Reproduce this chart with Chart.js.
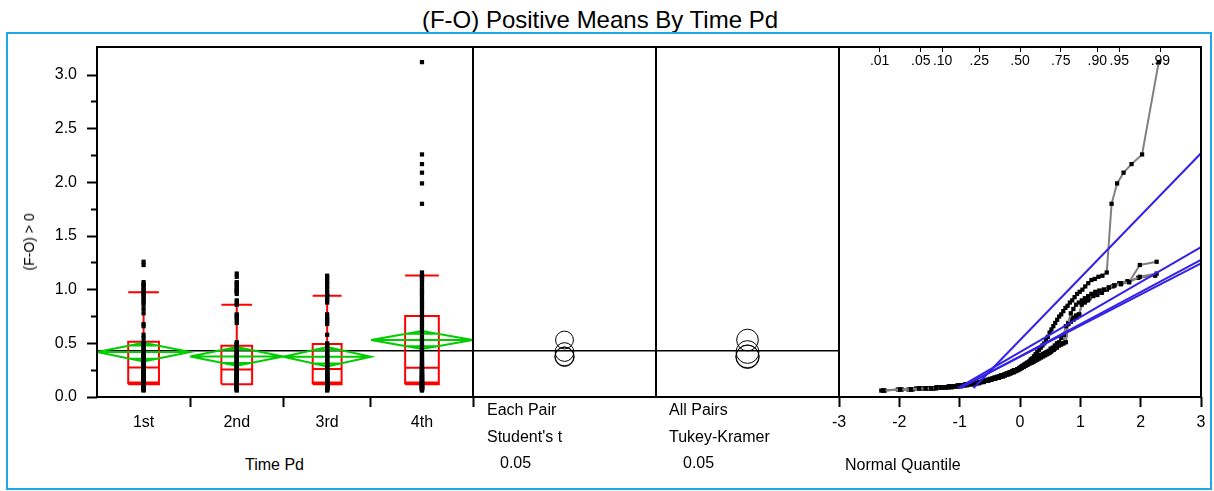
<!DOCTYPE html>
<html>
<head>
<meta charset="utf-8">
<script src="https://cdn.jsdelivr.net/npm/chart.js"></script>
<style>
  body { margin: 0; width: 1214px; height: 491px; position: relative; overflow: hidden; background: #fff;
         font-family: "Liberation Sans", Arial, sans-serif; color: #000; }
  canvas { position: absolute; }
  .txt { position: absolute; font-size: 16px; line-height: 16px; white-space: nowrap; }
  #title { position: absolute; left: 0; top: 8px; width: 1200px; text-align: center; font-size: 24px; line-height: 24px; }
  #frame { position: absolute; left: 6px; top: 32px; width: 1202px; height: 454px; border: 2px solid #1ea8e6; }
  #yTitle { left: 29px; top: 242px; font-size: 14px; line-height: 14px; transform: translate(-50%, -50%) rotate(-90deg); }
</style>
</head>
<body>
<div id="title">(F-O) Positive Means By Time Pd</div>
<div id="frame"></div>
<canvas id="meansChart" width="470" height="400" style="left:10px;top:40px"></canvas>
<canvas id="studentChart" width="203" height="364" style="left:463px;top:40px"></canvas>
<canvas id="tukeyChart" width="203" height="364" style="left:646px;top:40px"></canvas>
<canvas id="quantileChart" width="404" height="400" style="left:810px;top:40px"></canvas>
<div class="txt" id="yTitle">(F-O) &gt; 0</div>
<div class="txt" style="left:245px;top:457px">Time Pd</div>
<div class="txt" style="left:487px;top:402px">Each Pair</div>
<div class="txt" style="left:487px;top:429px">Student's t</div>
<div class="txt" style="left:500px;top:455px">0.05</div>
<div class="txt" style="left:669px;top:402px">All Pairs</div>
<div class="txt" style="left:669px;top:429px">Tukey-Kramer</div>
<div class="txt" style="left:683px;top:455px">0.05</div>
<div class="txt" style="left:845px;top:457px">Normal Quantile</div>
<script>
// ---- data ----
var groups = ["1st", "2nd", "3rd", "4th"];

var values1st = [0.06, 0.07, 0.07, 0.08, 0.08, 0.08, 0.08, 0.09, 0.09, 0.09, 0.09, 0.10, 0.10, 0.10,
  0.11, 0.11, 0.12, 0.12, 0.12, 0.13, 0.13,
  0.14, 0.14, 0.15, 0.15, 0.16, 0.16, 0.17, 0.18, 0.18, 0.19, 0.20, 0.20, 0.21, 0.22, 0.22, 0.23, 0.24, 0.25, 0.25, 0.26, 0.27,
  0.28, 0.29, 0.30, 0.31, 0.32, 0.33, 0.34, 0.35, 0.36, 0.37, 0.38, 0.39, 0.40, 0.41, 0.42, 0.43, 0.45, 0.46, 0.48, 0.50, 0.51,
  0.55, 0.58, 0.66, 0.68, 0.78, 0.82, 0.86, 0.88, 0.90, 0.92, 0.94, 0.96, 0.97, 0.99, 1.00, 1.02, 1.04, 1.05, 1.07, 1.23, 1.26];

var values2nd = [0.06, 0.07, 0.07, 0.08, 0.08, 0.08, 0.09, 0.09, 0.09, 0.09, 0.10, 0.10, 0.10, 0.11,
  0.11, 0.11, 0.12, 0.12, 0.12, 0.13, 0.13,
  0.14, 0.14, 0.15, 0.15, 0.16, 0.16, 0.17, 0.17, 0.18, 0.18, 0.19, 0.19, 0.20, 0.21, 0.21, 0.22, 0.23, 0.23, 0.24, 0.25, 0.26,
  0.27, 0.28, 0.29, 0.30, 0.31, 0.32, 0.32, 0.33, 0.34, 0.35, 0.36, 0.37, 0.38, 0.39, 0.40, 0.41, 0.42, 0.44, 0.45, 0.46, 0.48,
  0.49, 0.50, 0.51, 0.69, 0.72, 0.74, 0.76, 0.77, 0.86, 0.88, 0.90, 0.96, 0.98, 0.99, 1.00, 1.02, 1.04, 1.06, 1.07, 1.12, 1.15];

var values3rd = [0.06, 0.07, 0.07, 0.08, 0.08, 0.08, 0.09, 0.09, 0.09, 0.10, 0.10, 0.10, 0.11,
  0.11, 0.12, 0.12, 0.12, 0.13, 0.13, 0.13,
  0.14, 0.14, 0.15, 0.15, 0.16, 0.17, 0.17, 0.18, 0.18, 0.19, 0.20, 0.20, 0.21, 0.22, 0.22, 0.23, 0.24, 0.25, 0.25, 0.26,
  0.27, 0.28, 0.29, 0.30, 0.31, 0.32, 0.33, 0.34, 0.35, 0.36, 0.37, 0.38, 0.39, 0.40, 0.41, 0.43, 0.44, 0.46, 0.48, 0.49,
  0.50, 0.58, 0.68, 0.70, 0.72, 0.74, 0.77, 0.88, 0.90, 0.92, 0.94, 0.95, 0.97, 1.00, 1.03, 1.06, 1.08, 1.11, 1.13];

var values4th = [0.06, 0.07, 0.07, 0.08, 0.08, 0.08, 0.08, 0.09, 0.09, 0.09, 0.10, 0.10, 0.10, 0.11, 0.11,
  0.11, 0.12, 0.12, 0.12, 0.13, 0.13, 0.13, 0.14,
  0.14, 0.15, 0.15, 0.16, 0.16, 0.17, 0.17, 0.18, 0.18, 0.19, 0.19, 0.20, 0.20, 0.21, 0.21, 0.22, 0.23, 0.23, 0.24, 0.25, 0.25, 0.26, 0.27,
  0.28, 0.29, 0.30, 0.31, 0.32, 0.33, 0.35, 0.36, 0.38, 0.40, 0.42, 0.44, 0.46, 0.48, 0.50, 0.53, 0.56, 0.60, 0.63, 0.66, 0.69, 0.72, 0.75,
  0.77, 0.80, 0.83, 0.85, 0.88, 0.90, 0.93, 0.96, 0.98, 1.00, 1.03, 1.06, 1.09, 1.10, 1.12, 1.13, 1.16, 1.80, 1.99, 2.09, 2.17, 2.26, 3.12];

var valueLists = [values1st, values2nd, values3rd, values4th];

var grandMean = 0.432;
var groupMeans = [0.419, 0.378, 0.375, 0.531];
var meanCI = [0.087, 0.087, 0.09, 0.083];

var boxLow = [0.118, 0.118, 0.118, 0.118];
var boxLow2 = [0.134, 0.118, 0.134, 0.134];
var boxMedian = [0.276, 0.257, 0.26, 0.273];
var boxHigh = [0.515, 0.478, 0.494, 0.755];
var whiskerHigh = [0.976, 0.86, 0.944, 1.133];

var studentRadius = [0.087, 0.087, 0.09, 0.083];
var tukeyRadius = [0.106, 0.106, 0.109, 0.101];

var fitSD = [0.326, 0.30, 0.29, 0.58];
var fitStartZ = [-1.03, -0.98, -1.0, -0.77];

var yTicks = [0, 0.25, 0.5, 0.75, 1, 1.25, 1.5, 1.75, 2, 2.25, 2.5, 2.75, 3];
var quantileTicks = [-3, -2, -1, 0, 1, 2, 3];
var probLabels = [".01", ".05", ".10", ".25", ".50", ".75", ".90", ".95", ".99"];
var probValues = [0.01, 0.05, 0.10, 0.25, 0.50, 0.75, 0.90, 0.95, 0.99];

// ---- look ----
var Y_MAX = 3.261;
var BOX_FRAC = 0.33;
var RED = "#ff0000";
var GREEN = "#00cc00";
var BLUE = "#3322e6";
var GAP_Y = null;
var DOT = 3;

Chart.defaults.font.family = '"Liberation Sans", Arial, sans-serif';
Chart.defaults.color = "#000";

// black box round each plot area
var panelFrame = {
  id: "panelFrame",
  afterDraw: function (chart) {
    var a = chart.chartArea;
    var ctx = chart.ctx;
    ctx.save();
    ctx.strokeStyle = "#000";
    ctx.lineWidth = 2;
    ctx.strokeRect(a.left, a.top, a.right - a.left, a.bottom - a.top);
    ctx.restore();
  }
};

function invNorm(p) {
  var a = [-39.69683028665376, 220.9460984245205, -275.9285104469687, 138.3577518672690, -30.66479806614716, 2.506628277459239];
  var b = [-54.47609879822406, 161.5858368580409, -155.6989798598866, 66.80131188771972, -13.28068155288572];
  var c = [-0.007784894002430293, -0.3223964580411365, -2.400758277161838, -2.549732539343734, 4.374664141464968, 2.938163982698783];
  var d = [0.007784695709041462, 0.3224671290700398, 2.445134137142996, 3.754408661907416];
  var q, r;
  if (p < 0.02425) {
    q = Math.sqrt(-2 * Math.log(p));
    return (((((c[0] * q + c[1]) * q + c[2]) * q + c[3]) * q + c[4]) * q + c[5]) / ((((d[0] * q + d[1]) * q + d[2]) * q + d[3]) * q + 1);
  }
  if (p > 1 - 0.02425) {
    q = Math.sqrt(-2 * Math.log(1 - p));
    return -(((((c[0] * q + c[1]) * q + c[2]) * q + c[3]) * q + c[4]) * q + c[5]) / ((((d[0] * q + d[1]) * q + d[2]) * q + d[3]) * q + 1);
  }
  q = p - 0.5;
  r = q * q;
  return (((((a[0] * r + a[1]) * r + a[2]) * r + a[3]) * r + a[4]) * r + a[5]) * q / (((((b[0] * r + b[1]) * r + b[2]) * r + b[3]) * r + b[4]) * r + 1);
}

function isMajor(v) {
  return Math.abs(v * 2 - Math.round(v * 2)) < 1e-6;
}

function lineSet(points, color, width, order) {
  return { data: points, showLine: true, borderColor: color, borderWidth: width,
           pointRadius: 0, fill: false, tension: 0, spanGaps: false, order: order };
}

function pointSet(points, order) {
  return { data: points, showLine: false, pointStyle: "rect", pointRadius: DOT,
           pointBackgroundColor: "#000", pointBorderWidth: 0, order: order };
}

function baseOptions(padding, scales) {
  return {
    responsive: false,
    animation: false,
    devicePixelRatio: 1,
    events: [],
    layout: { autoPadding: false, padding: padding },
    plugins: { legend: { display: false }, tooltip: { enabled: false } },
    scales: scales
  };
}

function noPad(s) {
  s.paddingLeft = 0;
  s.paddingRight = 0;
  s.paddingTop = 0;
  s.paddingBottom = 0;
}

// ---- left panel: points, boxes and means diamonds ----
var cum = [0];
valueLists.forEach(function (vals, g) { cum.push(cum[g] + vals.length); });
var total = cum[cum.length - 1];

var xTicks = [];
for (var g = 0; g < groups.length; g++) {
  xTicks.push(cum[g]);
  xTicks.push((cum[g] + cum[g + 1]) / 2);
}
xTicks.push(total);

var meansSets = [];
meansSets.push(lineSet([{ x: 0, y: grandMean }, { x: total, y: grandMean }], "#000", 1.5, 4));

valueLists.forEach(function (vals, g) {
  var a = cum[g], b = cum[g + 1], c = (a + b) / 2;
  var w = (b - a) * BOX_FRAC / 2;
  var m = groupMeans[g], d = meanCI[g];
  var o = d / Math.SQRT2, k = (b - a) / 2 * (1 - 1 / Math.SQRT2);

  var diamond = [
    { x: a, y: m }, { x: c, y: m + d }, { x: b, y: m }, { x: c, y: m - d }, { x: a, y: m },
    { x: c, y: GAP_Y },
    { x: a, y: m }, { x: b, y: m },
    { x: c, y: GAP_Y },
    { x: c - k, y: m + o }, { x: c + k, y: m + o },
    { x: c, y: GAP_Y },
    { x: c - k, y: m - o }, { x: c + k, y: m - o }
  ];
  meansSets.push(lineSet(diamond, GREEN, 2, 1));

  var box = [
    { x: c - w, y: boxLow[g] }, { x: c + w, y: boxLow[g] }, { x: c + w, y: boxHigh[g] },
    { x: c - w, y: boxHigh[g] }, { x: c - w, y: boxLow[g] },
    { x: c, y: GAP_Y },
    { x: c - w, y: boxLow2[g] }, { x: c + w, y: boxLow2[g] },
    { x: c, y: GAP_Y },
    { x: c - w, y: boxMedian[g] }, { x: c + w, y: boxMedian[g] },
    { x: c, y: GAP_Y },
    { x: c, y: boxHigh[g] }, { x: c, y: whiskerHigh[g] },
    { x: c, y: GAP_Y },
    { x: c - w, y: whiskerHigh[g] }, { x: c + w, y: whiskerHigh[g] }
  ];
  meansSets.push(lineSet(box, RED, 2, 2));

  meansSets.push(pointSet(vals.map(function (v) { return { x: c, y: v }; }), 0));
});

new Chart(document.getElementById("meansChart"), {
  type: "scatter",
  data: { datasets: meansSets },
  options: baseOptions({ top: 7, right: 7, left: 0, bottom: 0 }, {
    x: {
      type: "linear", min: 0, max: total,
      afterBuildTicks: function (s) { s.ticks = xTicks.map(function (v) { return { value: v }; }); },
      afterFit: function (s) { s.height = 43; noPad(s); },
      border: { display: false },
      grid: {
        drawOnChartArea: false, tickLength: 10, tickWidth: 2,
        tickColor: function (ctx) { return ctx.index % 2 === 0 && ctx.index > 0 ? "#000" : "rgba(0,0,0,0)"; }
      },
      ticks: {
        padding: 6, autoSkip: false, maxRotation: 0, minRotation: 0, font: { size: 16 },
        callback: function (v, i) { return i % 2 === 1 ? groups[(i - 1) / 2] : ""; }
      }
    },
    y: {
      type: "linear", min: 0, max: Y_MAX,
      afterBuildTicks: function (s) { s.ticks = yTicks.map(function (v) { return { value: v }; }); },
      afterFit: function (s) { s.width = 87; noPad(s); },
      border: { display: false },
      grid: {
        drawOnChartArea: false, tickLength: 10, tickWidth: 2, tickColor: "#000",
        tickBorderDash: function (ctx) { return isMajor(ctx.tick.value) ? [] : [0, 4, 20]; }
      },
      ticks: {
        padding: 10, font: { size: 16 },
        callback: function (v) { return isMajor(v) ? v.toFixed(1) : ""; }
      }
    }
  }),
  plugins: [panelFrame]
});

// ---- comparison circles ----
function makeCircleChart(id, radii, padding) {
  var sets = [lineSet([{ x: 0, y: grandMean }, { x: 1, y: grandMean }], "#000", 1.5, 1)];
  sets.push({
    data: groupMeans.map(function (m) { return { x: 0.5, y: m }; }),
    showLine: false,
    pointStyle: "circle",
    pointRadius: function (ctx) {
      var ys = ctx.chart.scales.y;
      return ys.getPixelForValue(0) - ys.getPixelForValue(radii[ctx.dataIndex]);
    },
    pointBackgroundColor: "rgba(0,0,0,0)",
    pointBorderColor: "#000",
    pointBorderWidth: 1,
    order: 0
  });
  new Chart(document.getElementById(id), {
    type: "scatter",
    data: { datasets: sets },
    options: baseOptions(padding, {
      x: { type: "linear", min: 0, max: 1, display: false },
      y: { type: "linear", min: 0, max: Y_MAX, display: false }
    }),
    plugins: [panelFrame]
  });
}

makeCircleChart("studentChart", studentRadius, { top: 7, bottom: 7, left: 10, right: 10 });
makeCircleChart("tukeyChart", tukeyRadius, { top: 7, bottom: 7, left: 10, right: 10 });

// ---- normal quantile plot ----
var quantSets = [];
valueLists.forEach(function (vals, g) {
  var n = vals.length;
  var pts = vals.map(function (v, i) { return { x: invNorm((i + 1) / (n + 1)), y: v }; });
  quantSets.push({
    data: pts, showLine: true, borderColor: "#808080", borderWidth: 2, tension: 0,
    pointStyle: "rect", pointRadius: DOT, pointBackgroundColor: "#000", pointBorderWidth: 0, order: 1
  });
  var z0 = fitStartZ[g];
  quantSets.push(lineSet([
    { x: z0, y: groupMeans[g] + fitSD[g] * z0 },
    { x: 3, y: groupMeans[g] + fitSD[g] * 3 }
  ], BLUE, 2, 0));
});

new Chart(document.getElementById("quantileChart"), {
  type: "scatter",
  data: { datasets: quantSets },
  options: baseOptions({ top: 7, right: 13, left: 29, bottom: 0 }, {
    x: {
      type: "linear", position: "bottom", min: -3, max: 3,
      afterBuildTicks: function (s) { s.ticks = quantileTicks.map(function (v) { return { value: v }; }); },
      afterFit: function (s) { s.height = 43; noPad(s); },
      border: { display: false },
      grid: { drawOnChartArea: false, tickLength: 10, tickWidth: 2, tickColor: "#000" },
      ticks: { padding: 6, autoSkip: false, maxRotation: 0, minRotation: 0, font: { size: 16 } }
    },
    xTop: {
      type: "linear", axis: "x", position: "top", min: -3, max: 3,
      afterBuildTicks: function (s) { s.ticks = probValues.map(function (p) { return { value: invNorm(p) }; }); },
      afterFit: function (s) { s.height = 0; noPad(s); },
      border: { display: false },
      grid: { drawOnChartArea: false, tickLength: -5, tickWidth: 1, tickColor: "#000" },
      ticks: {
        mirror: true, padding: 6, autoSkip: false, maxRotation: 0, minRotation: 0, font: { size: 14 },
        callback: function (v, i) { return probLabels[i]; }
      }
    },
    y: { type: "linear", min: 0, max: Y_MAX, display: false }
  }),
  plugins: [panelFrame]
});
</script>
</body>
</html>
